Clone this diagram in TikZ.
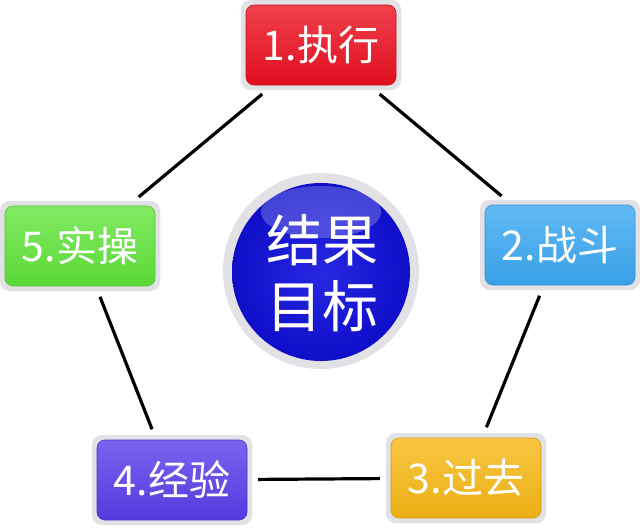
\documentclass[tikz,border=0pt]{standalone}
\usepackage{fontspec}
\newfontfamily\cjk{Noto Sans CJK SC}
\definecolor{cred}{HTML}{EC1020}
\definecolor{cblue}{HTML}{3AA8F2}
\definecolor{cyellow}{HTML}{F7B814}
\definecolor{cpurple}{HTML}{5A3CEA}
\definecolor{cgreen}{HTML}{60E43A}
\definecolor{cdisc}{HTML}{1010E0}
\definecolor{rim}{HTML}{E2E2E6}
\tikzset{
  rimbox/.style={fill=rim, rounded corners=10pt, minimum width=160pt, minimum height=90pt, inner sep=0pt},
  stepbox/.style={rounded corners=8pt, minimum width=150pt, minimum height=80pt, inner sep=0pt,
     text=white, font=\cjk\fontsize{41}{44}\selectfont},
  link/.style={line width=3.2pt, black, shorten >=6pt, shorten <=6pt},
}
\newcommand{\stepnode}[4]{%
  \node[rimbox] (r#1) at (#2) {};
  \node[stepbox, top color=#3!80!white, bottom color=#3!95!black, draw=#3!85!black, line width=0.6pt] (#1) at (#2) {#4};
}
\begin{document}
\begin{tikzpicture}[x=1pt,y=-1pt]
\useasboundingbox (0,0) rectangle (640,530);
\fill[white] (0,0) rectangle (640,530);
\node[rimbox] (rs1) at (321,45) {};
\node[rimbox] (rs2) at (560,245) {};
\node[rimbox] (rs3) at (466,478) {};
\node[rimbox] (rs4) at (172,480) {};
\node[rimbox] (rs5) at (80,246) {};
\draw[link] (rs1) -- (rs2);
\draw[link] (rs2) -- (rs3);
\draw[link] (rs3) -- (rs4);
\draw[link] (rs4) -- (rs5);
\draw[link] (rs5) -- (rs1);
\stepnode{s1}{321,45}{cred}{1.执行}
\stepnode{s2}{560,245}{cblue}{2.战斗}
\stepnode{s3}{466,478}{cyellow}{3.过去}
\stepnode{s4}{172,480}{cpurple}{4.经验}
\stepnode{s5}{80,246}{cgreen}{5.实操}
\node[circle, fill=rim, minimum size=196pt] (ring) at (321,271) {};
\node[circle, inner color=cdisc!90!white, outer color=cdisc!90!black, minimum size=178pt, inner sep=0pt] (disc) at (321,272) {};
\fill[white, opacity=0.22] (321,212) ellipse (60pt and 26pt);
\node[text=white, font=\cjk\fontsize{56}{66}\selectfont, align=center] (ct) at (322,273) {结果\\目标};
\end{tikzpicture}
\end{document}
